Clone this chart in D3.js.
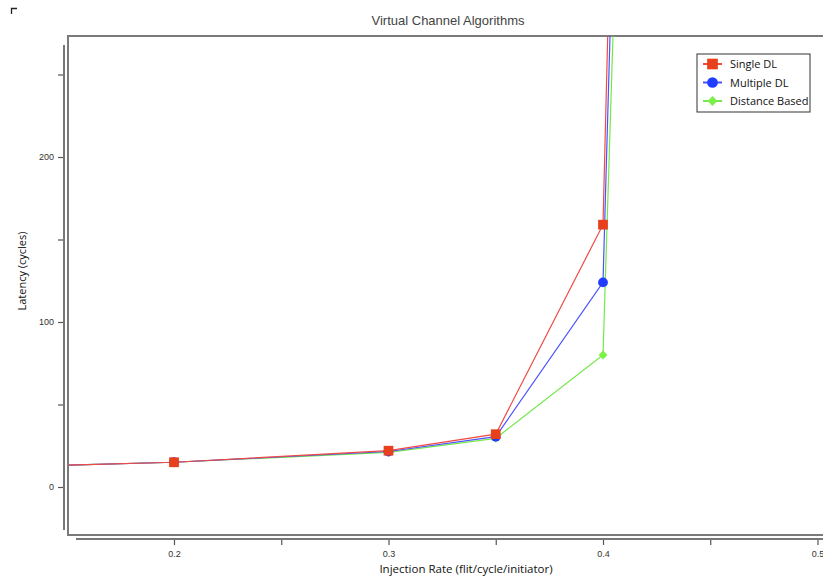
<!DOCTYPE html>
<html>
<head>
<meta charset="utf-8">
<script src="https://cdn.jsdelivr.net/npm/d3@7"></script>
<style>
  body { margin: 0; background: #fff; }
  .tick text { font-family: "Liberation Sans Narrow", "Liberation Sans", sans-serif; font-size: 9px; fill: #333; }
  .line { fill: none; stroke-width: 1.2; }
</style>
</head>
<body>
<div id="chart"></div>
<script>
// data
var injection = [0.145, 0.2, 0.3, 0.35, 0.4, 0.41];
var singleDL = [13.1, 15, 22, 32, 159, 680];
var multipleDL = [13.1, 15, 21.5, 30.5, 124, 582];
var distanceBased = [13.1, 15, 21, 29.5, 80, 496];

var seriesNames = ["Single DL", "Multiple DL", "Distance Based"];
var xTicks = [0.2, 0.25, 0.3, 0.35, 0.4, 0.45, 0.5];
var yTicks = [0, 50, 100, 150, 200, 250];

var fullWidth = 823, fullHeight = 579;

// plot box
var box = {left: 68, top: 36, right: 830, bottom: 535};

var xScale = d3.scaleLinear()
    .domain([0.15, 0.5])
    .range([66.75, 817.5]);

var yScale = d3.scaleLinear()
    .domain([0, 200])
    .range([487, 157]);

// diamond = square turned by 45 degrees
var series = [
  {name: seriesNames[2], values: distanceBased, line: "#74e84a", fill: "#7cf048", shape: d3.symbolSquare, size: 40, rot: 45},
  {name: seriesNames[1], values: multipleDL, line: "#4a52ff", fill: "#1f3cff", shape: d3.symbolCircle, size: 75, rot: 0},
  {name: seriesNames[0], values: singleDL, line: "#f04a44", fill: "#e8401c", shape: d3.symbolSquare, size: 95, rot: 0}
];

var svg = d3.select("#chart").append("svg")
    .attr("width", fullWidth)
    .attr("height", fullHeight);

// little corner mark top left
svg.append("path")
    .attr("d", "M11.5,14V8.5H17")
    .attr("fill", "none")
    .attr("stroke", "#222")
    .attr("stroke-width", 1.3);

// title
svg.append("text")
    .attr("x", 448)
    .attr("y", 25)
    .attr("text-anchor", "middle")
    .style("font-family", "'Liberation Sans', Arial, sans-serif")
    .style("font-size", "13px")
    .style("fill", "#444")
    .text("Virtual Channel Algorithms");

// clip for data
svg.append("clipPath")
    .attr("id", "plotClip")
  .append("rect")
    .attr("x", box.left)
    .attr("y", box.top)
    .attr("width", box.right - box.left)
    .attr("height", box.bottom - box.top);

// plot frame
svg.append("rect")
    .attr("x", box.left)
    .attr("y", box.top)
    .attr("width", box.right - box.left)
    .attr("height", box.bottom - box.top)
    .attr("fill", "#fff")
    .attr("stroke", "#7a7a7a")
    .attr("stroke-width", 2);

// y axis, detached to the left of the frame
var yAxis = svg.append("g")
    .attr("class", "y axis")
    .attr("transform", "translate(64,0)")
    .call(d3.axisLeft(yScale)
      .tickValues(yTicks)
      .tickSize(6)
      .tickPadding(4)
      .tickFormat(function(d) { return d % 100 === 0 ? d : ""; }));
yAxis.select(".domain").remove();
yAxis.selectAll(".tick line").attr("stroke", "#555").attr("stroke-width", 1.2);
yAxis.append("line")
    .attr("y1", 45).attr("y2", 530)
    .attr("stroke", "#777").attr("stroke-width", 2);

// x axis, detached below the frame
var xAxis = svg.append("g")
    .attr("class", "x axis")
    .attr("transform", "translate(0,539)")
    .call(d3.axisBottom(xScale)
      .tickValues(xTicks)
      .tickSize(6)
      .tickPadding(6)
      .tickFormat(function(d) { return Math.round(d * 100) % 10 === 0 ? d3.format(".1f")(d) : ""; }));
xAxis.select(".domain").remove();
xAxis.selectAll(".tick line").attr("stroke", "#555").attr("stroke-width", 1.2);
xAxis.append("line")
    .attr("x1", 76).attr("x2", 830)
    .attr("stroke", "#777").attr("stroke-width", 2);

// axis titles
svg.append("text")
    .attr("x", 466)
    .attr("y", 573)
    .attr("text-anchor", "middle")
    .style("font-family", "'Open Sans', sans-serif")
    .style("font-size", "11.5px")
    .style("fill", "#111")
    .text("Injection Rate (flit/cycle/initiator)");

svg.append("text")
    .attr("transform", "translate(26,271) rotate(-90)")
    .attr("text-anchor", "middle")
    .style("font-family", "'Open Sans', sans-serif")
    .style("font-size", "11px")
    .style("fill", "#111")
    .text("Latency (cycles)");

// lines and markers
var plot = svg.append("g").attr("clip-path", "url(#plotClip)");

var line = d3.line()
    .x(function(d, i) { return xScale(injection[i]); })
    .y(function(d) { return yScale(d); });

series.forEach(function(s) {
  plot.append("path")
      .datum(s.values)
      .attr("class", "line")
      .attr("stroke", s.line)
      .attr("d", line);
});

series.forEach(function(s) {
  plot.selectAll(null)
      .data(s.values)
      .enter()
      .append("path")
      .attr("d", d3.symbol().type(s.shape).size(s.size))
      .attr("transform", function(d, i) {
        return "translate(" + xScale(injection[i]) + "," + yScale(d) + ") rotate(" + s.rot + ")";
      })
      .attr("fill", s.fill);
});

// legend
var legendBox = svg.append("g").attr("transform", "translate(697,54)");
legendBox.append("rect")
    .attr("width", 113)
    .attr("height", 58)
    .attr("fill", "#fff")
    .attr("stroke", "#333")
    .attr("stroke-width", 1);

var legendItems = series.slice().reverse();
var legend = legendBox.selectAll(".legend")
    .data(legendItems)
    .enter()
    .append("g")
    .attr("class", "legend")
    .attr("transform", function(d, i) { return "translate(0," + (10 + i * 18.5) + ")"; });

legend.append("line")
    .attr("x1", 6).attr("x2", 25)
    .attr("stroke", function(d) { return d.line; })
    .attr("stroke-width", 2);

legend.append("path")
    .attr("d", function(d) { return d3.symbol().type(d.shape).size(d.size * 1.2)(); })
    .attr("transform", function(d) { return "translate(15.5,0) rotate(" + d.rot + ")"; })
    .attr("fill", function(d) { return d.fill; });

legend.append("text")
    .attr("x", 33)
    .attr("y", 4)
    .style("font-family", "'Open Sans', sans-serif")
    .style("font-size", "11px")
    .style("fill", "#111")
    .text(function(d) { return d.name; });
</script>
</body>
</html>
